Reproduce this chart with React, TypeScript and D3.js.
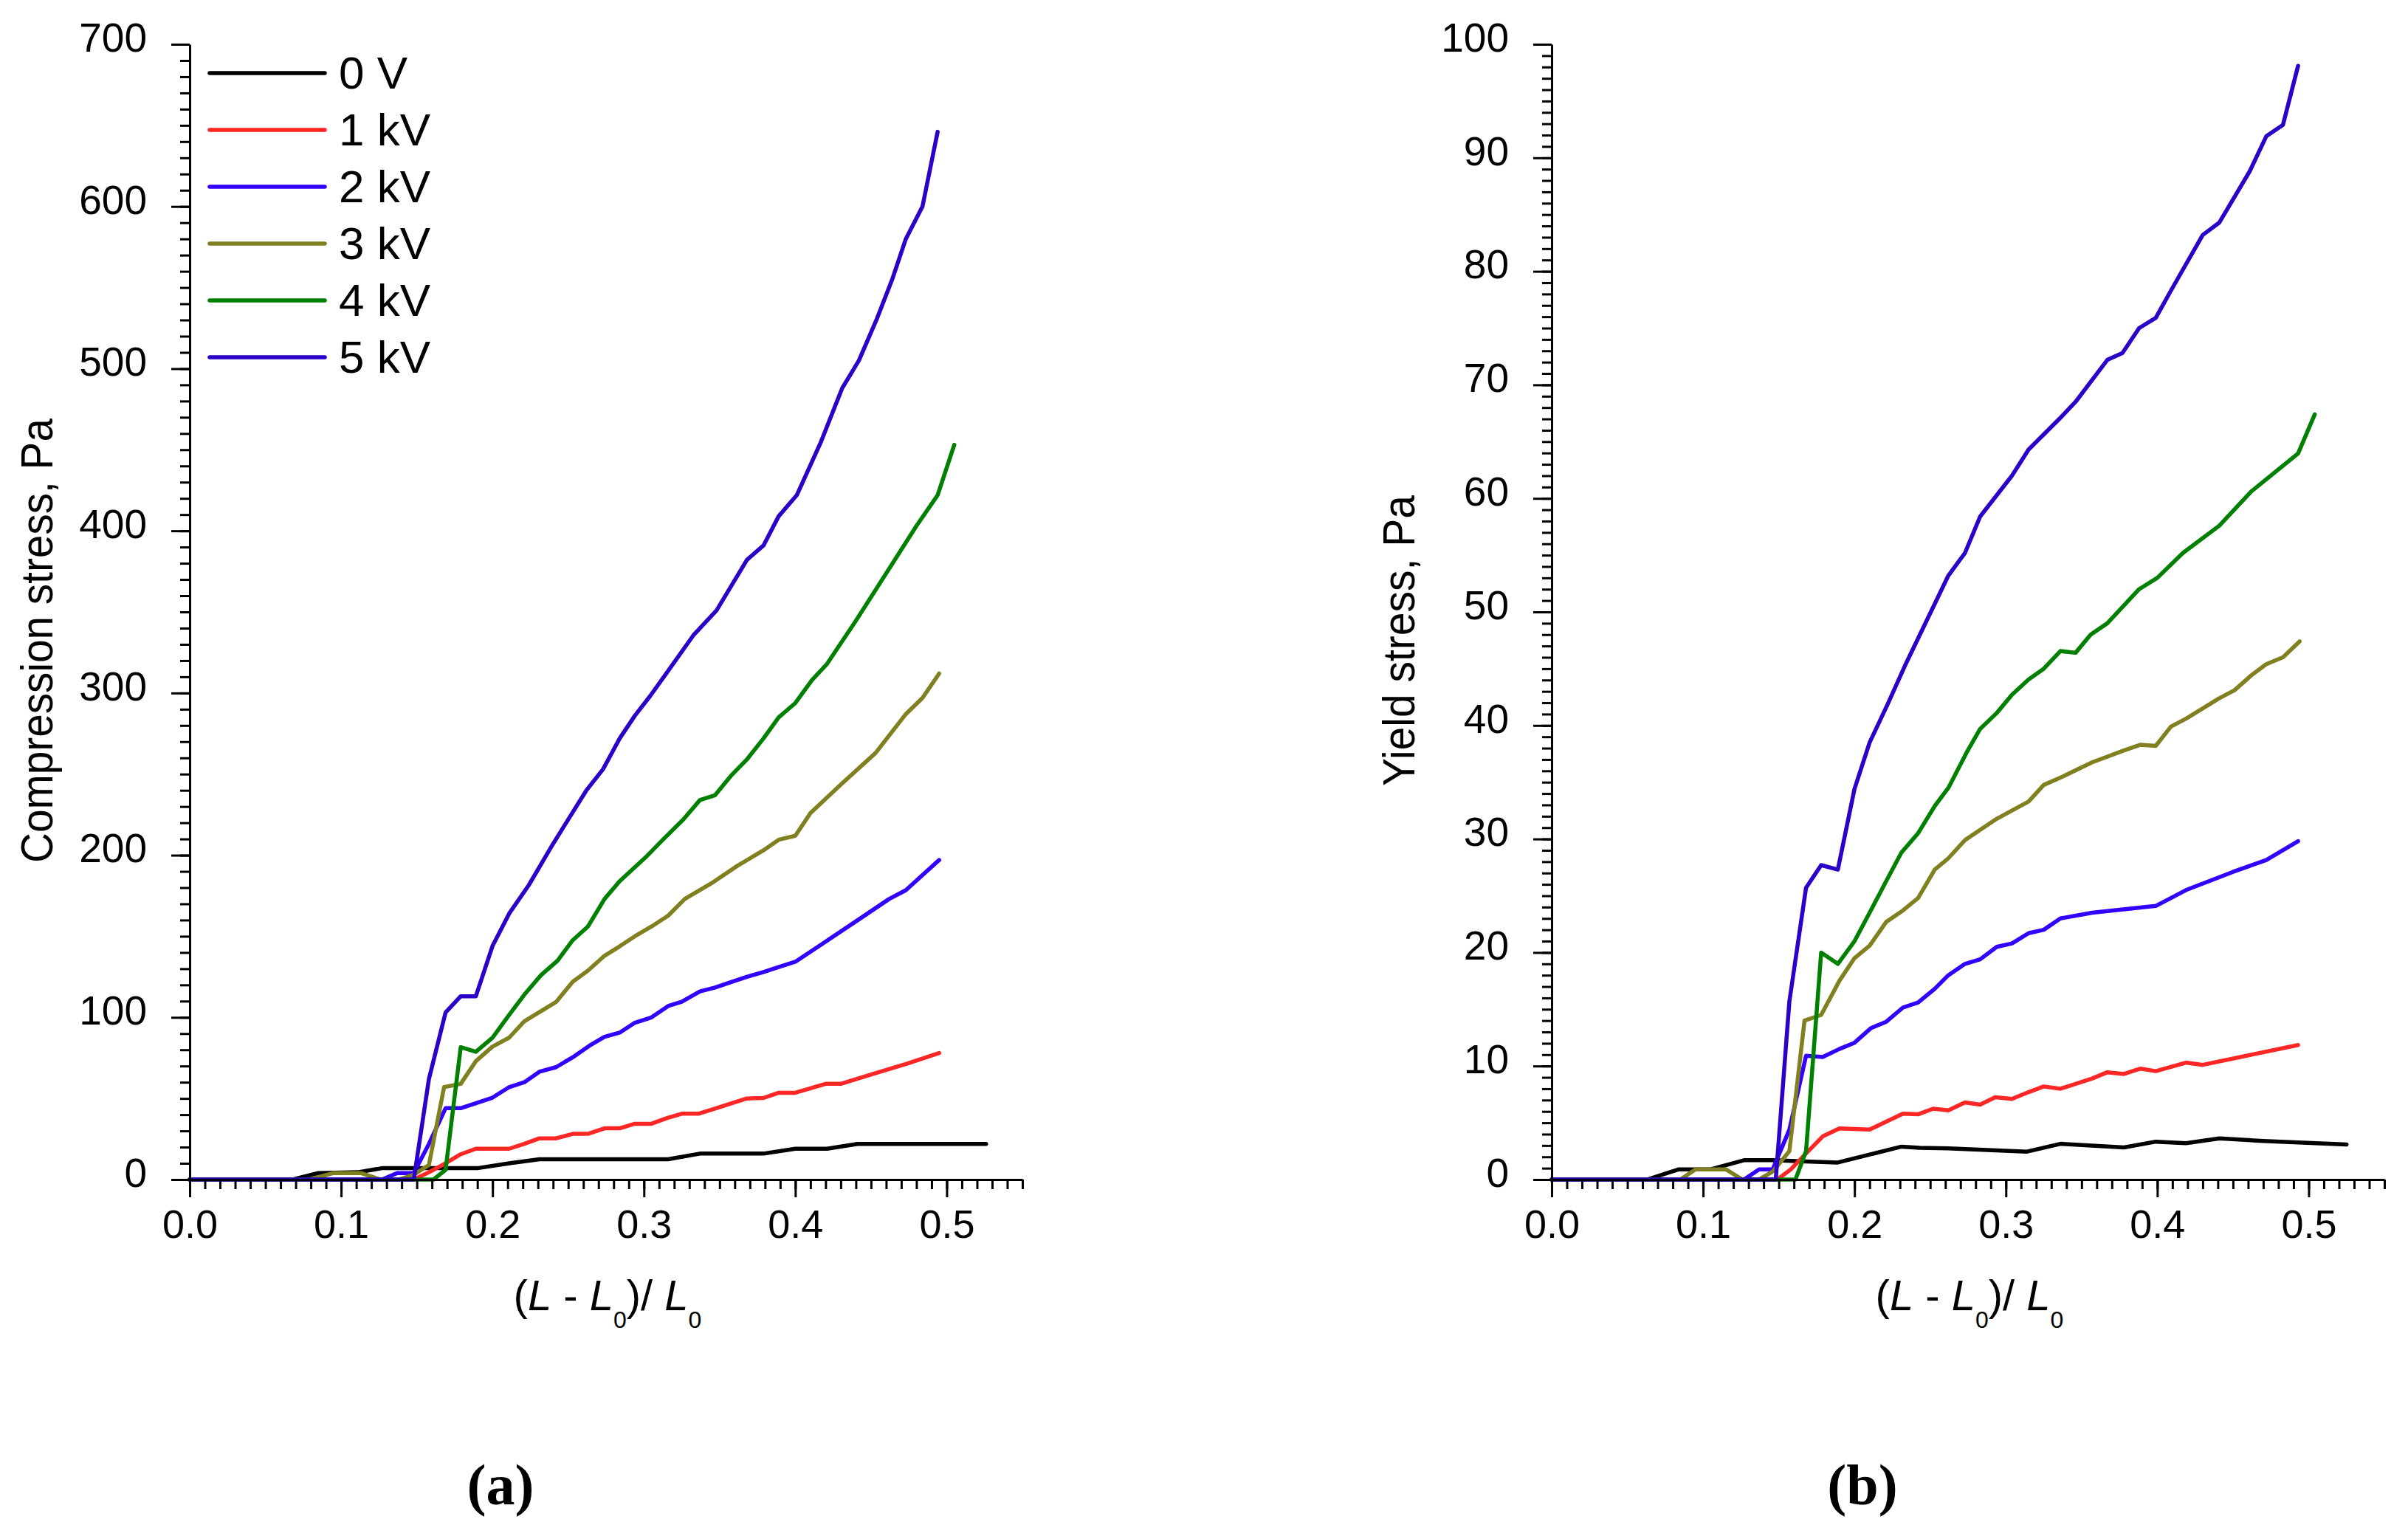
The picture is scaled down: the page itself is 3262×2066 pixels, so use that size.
import * as d3 from "d3";
import { useEffect, useRef } from "react";

type Pt = [number, number];

const seriesNames = ["0 V", "1 kV", "2 kV", "3 kV", "4 kV", "5 kV"];
const seriesColors = ["#000000", "#ff2626", "#3300ff", "#808020", "#008000", "#2b00c8"];

const xMajorTicks = [0, 0.1, 0.2, 0.3, 0.4, 0.5];
const compressionTicks = [0, 100, 200, 300, 400, 500, 600, 700];
const yieldTicks = [0, 10, 20, 30, 40, 50, 60, 70, 80, 90, 100];

// (a) compression stress, Pa
const comp0V: Pt[] = [
  [0, 0], [0.068, 0], [0.085, 4], [0.111, 4.5], [0.127, 7], [0.148, 7], [0.19, 7],
  [0.211, 10], [0.231, 12.5], [0.316, 12.5], [0.337, 16], [0.379, 16], [0.4, 19],
  [0.421, 19], [0.441, 22], [0.526, 22],
];
const comp1kV: Pt[] = [
  [0, 0], [0.148, 0], [0.158, 4.5], [0.168, 9.5], [0.179, 15.6], [0.189, 19], [0.211, 19],
  [0.221, 22], [0.231, 25.4], [0.242, 25.4], [0.253, 28.2], [0.263, 28.2], [0.274, 31.6],
  [0.284, 31.6], [0.294, 34.4], [0.305, 34.4], [0.315, 37.8], [0.325, 40.6], [0.336, 40.6],
  [0.347, 43.8], [0.358, 47], [0.368, 50], [0.379, 50.3], [0.389, 53.5], [0.4, 53.5],
  [0.42, 59], [0.43, 59], [0.451, 65], [0.474, 71.5], [0.495, 78],
];
const comp2kV: Pt[] = [
  [0, 0], [0.127, 0], [0.137, 4], [0.148, 4], [0.158, 22], [0.169, 44], [0.179, 44],
  [0.189, 47], [0.2, 50.5], [0.211, 57], [0.221, 60], [0.231, 66.5], [0.242, 69.3],
  [0.254, 76], [0.264, 82.5], [0.274, 88], [0.284, 90.6], [0.294, 96.7], [0.305, 100],
  [0.316, 107], [0.325, 109.6], [0.337, 116], [0.347, 118.4], [0.357, 121.6], [0.368, 125],
  [0.379, 128], [0.389, 131], [0.4, 134.3], [0.42, 146.7], [0.441, 159.8], [0.462, 173],
  [0.473, 178.4], [0.495, 197],
];
const comp3kV: Pt[] = [
  [0, 0], [0.079, 0], [0.095, 4], [0.113, 4], [0.126, 0], [0.138, 0], [0.148, 3],
  [0.158, 9], [0.168, 57], [0.179, 59], [0.189, 73], [0.2, 82], [0.211, 87.5],
  [0.221, 97.6], [0.242, 109.5], [0.253, 122], [0.263, 128.8], [0.274, 138], [0.284, 143.8],
  [0.294, 150], [0.305, 156], [0.316, 162.7], [0.327, 173], [0.346, 183.5], [0.362, 193.6],
  [0.379, 203], [0.389, 209.5], [0.4, 212], [0.41, 226], [0.43, 243.5], [0.453, 263],
  [0.473, 287], [0.484, 297], [0.495, 312],
];
const comp4kV: Pt[] = [
  [0, 0], [0.161, 0], [0.169, 6], [0.179, 81.6], [0.189, 78.8], [0.2, 87.4], [0.211, 101.5],
  [0.221, 114], [0.232, 126], [0.243, 135], [0.253, 147.6], [0.263, 156], [0.274, 173],
  [0.284, 184], [0.302, 199.5], [0.313, 210], [0.326, 222], [0.337, 234], [0.347, 237],
  [0.358, 249.5], [0.368, 259], [0.379, 272], [0.389, 285], [0.4, 293.8], [0.411, 308],
  [0.421, 318], [0.44, 344.5], [0.48, 403], [0.494, 422], [0.505, 453],
];
const comp5kV: Pt[] = [
  [0, 0], [0.148, 0], [0.158, 62], [0.169, 103], [0.179, 113], [0.189, 113], [0.2, 144],
  [0.211, 164], [0.224, 181.6], [0.24, 207], [0.262, 240], [0.273, 253], [0.284, 272],
  [0.294, 286], [0.304, 298], [0.314, 311], [0.333, 336], [0.348, 351], [0.368, 382],
  [0.379, 391], [0.389, 409], [0.401, 422], [0.417, 455], [0.431, 488], [0.442, 505],
  [0.454, 531], [0.464, 555], [0.473, 580], [0.484, 600], [0.494, 646],
];

// (b) yield stress, Pa
const yield0V: Pt[] = [
  [0, 0], [0.063, 0], [0.084, 0.9], [0.105, 0.9], [0.127, 1.7], [0.146, 1.7], [0.168, 1.6],
  [0.189, 1.5], [0.21, 2.2], [0.231, 2.9], [0.243, 2.8], [0.262, 2.75], [0.314, 2.46],
  [0.336, 3.15], [0.378, 2.83], [0.399, 3.34], [0.419, 3.2], [0.441, 3.62], [0.47, 3.4],
  [0.525, 3.09],
];
const yield1kV: Pt[] = [
  [0, 0], [0.149, 0], [0.158, 0.9], [0.168, 2.3], [0.179, 3.8], [0.19, 4.5], [0.21, 4.4],
  [0.221, 5.1], [0.232, 5.8], [0.242, 5.75], [0.252, 6.24], [0.262, 6.1], [0.273, 6.8],
  [0.283, 6.6], [0.293, 7.25], [0.304, 7.1], [0.315, 7.7], [0.325, 8.2], [0.336, 8.0],
  [0.357, 8.9], [0.367, 9.45], [0.378, 9.3], [0.389, 9.77], [0.399, 9.55], [0.419, 10.3],
  [0.43, 10.1], [0.493, 11.85],
];
const yield2kV: Pt[] = [
  [0, 0], [0.127, 0], [0.137, 0.9], [0.146, 0.9], [0.157, 4.4], [0.168, 10.9], [0.179, 10.8],
  [0.19, 11.5], [0.2, 12.05], [0.211, 13.35], [0.221, 13.9], [0.232, 15.15], [0.242, 15.6],
  [0.253, 16.8], [0.262, 18], [0.273, 19], [0.283, 19.4], [0.294, 20.5], [0.304, 20.8],
  [0.315, 21.7], [0.325, 22], [0.336, 23], [0.357, 23.5], [0.399, 24.1], [0.419, 25.5],
  [0.45, 27.1], [0.472, 28.15], [0.493, 29.8],
];
const yield3kV: Pt[] = [
  [0, 0], [0.085, 0], [0.095, 0.9], [0.115, 0.9], [0.126, 0], [0.137, 0], [0.146, 0.7],
  [0.157, 2.5], [0.167, 14], [0.178, 14.5], [0.19, 17.5], [0.2, 19.5], [0.21, 20.6],
  [0.221, 22.7], [0.232, 23.7], [0.242, 24.8], [0.253, 27.3], [0.262, 28.3], [0.273, 29.9],
  [0.283, 30.8], [0.293, 31.7], [0.304, 32.5], [0.315, 33.3], [0.325, 34.76], [0.336, 35.4],
  [0.357, 36.75], [0.378, 37.8], [0.389, 38.3], [0.399, 38.2], [0.409, 39.9], [0.419, 40.6],
  [0.441, 42.4], [0.451, 43.1], [0.462, 44.4], [0.472, 45.4], [0.483, 46], [0.494, 47.4],
];
const yield4kV: Pt[] = [
  [0, 0], [0.161, 0], [0.168, 2.5], [0.178, 20], [0.189, 19], [0.2, 21], [0.21, 23.5],
  [0.221, 26.3], [0.231, 28.8], [0.242, 30.5], [0.253, 32.9], [0.262, 34.5], [0.274, 37.6],
  [0.283, 39.7], [0.294, 41.1], [0.304, 42.7], [0.315, 44.05], [0.325, 45], [0.336, 46.55],
  [0.346, 46.4], [0.356, 48], [0.367, 49], [0.388, 52], [0.4, 53], [0.417, 55.2],
  [0.441, 57.6], [0.462, 60.6], [0.473, 61.8], [0.493, 63.95], [0.504, 67.4],
];
const yield5kV: Pt[] = [
  [0, 0], [0.148, 0], [0.157, 15.7], [0.168, 25.7], [0.178, 27.7], [0.189, 27.3], [0.2, 34.4],
  [0.21, 38.5], [0.222, 41.9], [0.234, 45.45], [0.262, 53.2], [0.273, 55.2], [0.283, 58.4],
  [0.304, 62], [0.315, 64.3], [0.336, 67.1], [0.346, 68.5], [0.367, 72.2], [0.377, 72.8],
  [0.388, 75], [0.399, 75.9], [0.409, 78.3], [0.43, 83.2], [0.441, 84.3], [0.461, 88.8],
  [0.472, 91.9], [0.483, 92.9], [0.493, 98.1],
];

const compressionSeries = [comp0V, comp1kV, comp2kV, comp3kV, comp4kV, comp5kV];
const yieldSeries = [yield0V, yield1kV, yield2kV, yield3kV, yield4kV, yield5kV];

const W = 3262;
const H = 2066;
const plotTop = 60;
const plotBottom = 1598;
const plotWidth = 1128;
const sans = "'Liberation Sans', Arial, sans-serif";

interface PanelProps {
  left: number;
  yMax: number;
  yTicks: number[];
  yMinorStep: number;
  series: Pt[][];
  yLabel: string;
  yLabelLen: number;
  tag: string;
  legend?: boolean;
}

const Panel = ({ left, yMax, yTicks, yMinorStep, series, yLabel, yLabelLen, tag, legend }: PanelProps) => {
  const axesRef = useRef<SVGGElement | null>(null);

  const x = d3.scaleLinear().domain([0, 0.55]).range([left, left + plotWidth]);
  const y = d3.scaleLinear().domain([0, yMax]).range([plotBottom, plotTop]);
  const line = d3
    .line<Pt>()
    .x((d) => x(d[0]))
    .y((d) => y(d[1]));

  useEffect(() => {
    const g = d3.select(axesRef.current);
    g.selectAll("*").remove();

    const xMinor = d3.range(56).map((i) => i / 100);
    const yMinor = d3.range(0, yMax + yMinorStep / 2, yMinorStep);

    const styleAxis = (sel: d3.Selection<SVGGElement, unknown, null, undefined>) => {
      sel.attr("color", "#000").attr("font-family", sans);
      sel.selectAll("line").attr("stroke-width", 3);
      sel.selectAll("path").attr("stroke-width", 3);
    };

    g.append("g")
      .attr("transform", `translate(0,${plotBottom})`)
      .call(d3.axisBottom(x).tickValues(xMinor).tickSize(13).tickSizeOuter(0).tickFormat(() => ""))
      .call(styleAxis)
      .call((s) => s.select(".domain").remove());

    g.append("g")
      .attr("transform", `translate(${left},0)`)
      .call(d3.axisLeft(y).tickValues(yMinor).tickSize(13).tickSizeOuter(0).tickFormat(() => ""))
      .call(styleAxis)
      .call((s) => s.select(".domain").remove());

    g.append("g")
      .attr("transform", `translate(0,${plotBottom})`)
      .call(
        d3.axisBottom(x).tickValues(xMajorTicks).tickSize(24).tickSizeOuter(0).tickPadding(17)
          .tickFormat((d) => d3.format(".1f")(d as number))
      )
      .call(styleAxis)
      .attr("font-size", 54);

    g.append("g")
      .attr("transform", `translate(${left},0)`)
      .call(
        d3.axisLeft(y).tickValues(yTicks).tickSize(25).tickSizeOuter(0).tickPadding(33)
          .tickFormat((d) => String(d))
      )
      .call(styleAxis)
      .attr("font-size", 55)
      .call((s) => s.selectAll("text").attr("dy", "0.17em"));
  }, [left, yMax, yMinorStep, yTicks]);

  const titleX = left + 566;
  const labelX = left - 186;

  return (
    <g>
      {series.map((pts, i) => (
        <path
          key={seriesNames[i]}
          d={line(pts) ?? ""}
          fill="none"
          stroke={seriesColors[i]}
          strokeWidth={5.5}
          strokeLinejoin="round"
          strokeLinecap="round"
        />
      ))}
      <g ref={axesRef} />
      {legend &&
        seriesNames.map((name, i) => (
          <g key={name} transform={`translate(${left + 27},${99 + i * 77})`}>
            <line x1={0} x2={156} y1={0} y2={0} stroke={seriesColors[i]} strokeWidth={5.5} strokeLinecap="round" />
            <text x={175} y={21} fontFamily={sans} fontSize={62} fill="#000">
              {name}
            </text>
          </g>
        ))}
      <text
        transform={`translate(${labelX},868) rotate(-90)`}
        textAnchor="middle"
        fontFamily={sans}
        fontSize={62}
        textLength={yLabelLen}
        lengthAdjust="spacingAndGlyphs"
      >
        {yLabel}
      </text>
      <text x={titleX} y={1775} textAnchor="middle" fontFamily={sans} fontSize={58}>
        <tspan>(</tspan>
        <tspan fontStyle="italic">L</tspan>
        <tspan> - </tspan>
        <tspan fontStyle="italic">L</tspan>
        <tspan fontSize={32} dy={24}>0</tspan>
        <tspan dy={-24}>)/ </tspan>
        <tspan fontStyle="italic">L</tspan>
        <tspan fontSize={32} dy={24}>0</tspan>
      </text>
      <text
        x={left + 421}
        y={2038}
        textAnchor="middle"
        fontFamily="'Liberation Serif', 'Times New Roman', serif"
        fontWeight="bold"
        fontSize={78}
      >
        {tag}
      </text>
    </g>
  );
};

export default function App() {
  return (
    <svg
      width={W}
      height={H}
      viewBox={`0 0 ${W} ${H}`}
      style={{ position: "absolute", left: 0, top: 0, background: "#fff" }}
    >
      <rect width={W} height={H} fill="#fff" />
      <Panel
        left={257}
        yMax={700}
        yTicks={compressionTicks}
        yMinorStep={10}
        series={compressionSeries}
        yLabel="Compression stress, Pa"
        yLabelLen={602}
        tag="(a)"
        legend
      />
      <Panel
        left={2102}
        yMax={100}
        yTicks={yieldTicks}
        yMinorStep={1}
        series={yieldSeries}
        yLabel="Yield stress, Pa"
        yLabelLen={394}
        tag="(b)"
      />
    </svg>
  );
}
